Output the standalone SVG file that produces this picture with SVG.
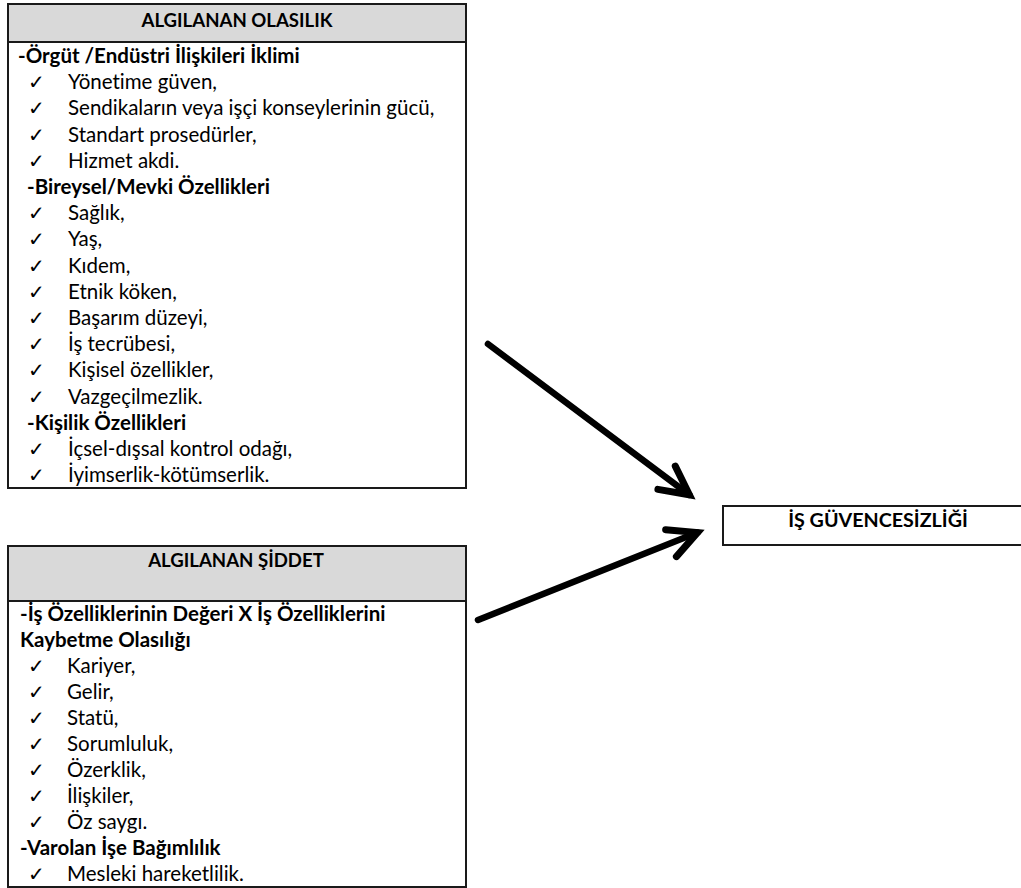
<svg xmlns="http://www.w3.org/2000/svg" width="1021" height="888" viewBox="0 0 1021 888">
<style>
.box{fill:#fff;stroke:#1a1a1a;stroke-width:2}
.hdr{fill:#d9d9d9;stroke:#1a1a1a;stroke-width:2}
text{font-variant-ligatures:none}
.t{font-family:Lato,"Open Sans","Liberation Sans",sans-serif;font-size:20.5px;fill:#000}
.b{font-family:Lato,"Open Sans","Liberation Sans",sans-serif;font-size:20.5px;font-weight:bold;fill:#000}
.h{font-family:Lato,"Open Sans","Liberation Sans",sans-serif;font-size:18.6px;font-weight:bold;fill:#000;text-anchor:middle}
.g{font-family:Lato,"Open Sans","Liberation Sans",sans-serif;font-size:19.7px;font-weight:bold;fill:#000;text-anchor:middle}
.c{font-family:"DejaVu Sans",sans-serif;font-size:20px;font-weight:bold;fill:#000}
.arr{fill:none;stroke:#000;stroke-width:6.5;stroke-linecap:round}
</style>
<defs>
<marker id="chev" markerUnits="userSpaceOnUse" orient="auto" refX="0" refY="0" viewBox="-40 -25 50 50" markerWidth="50" markerHeight="50" overflow="visible">
<path d="M-28.5,-14.5 L0,0 L-28.5,14.5" fill="none" stroke="#000" stroke-width="7" stroke-linejoin="miter" stroke-miterlimit="10" stroke-linecap="round"/>
</marker>
</defs>
<rect width="1021" height="888" fill="#fff"/>

<g id="node-olasilik">
<rect class="box" x="8" y="4" width="458" height="484"/>
<rect class="hdr" x="8" y="4" width="458" height="38"/>
<text class="h" x="237" y="27">ALGILANAN OLASILIK</text>
<text class="b" x="18" y="63">-Örgüt /Endüstri İlişkileri İklimi</text>
<text class="c" x="28" y="89.2">✓</text><text class="t" x="68" y="89.2">Yönetime güven,</text>
<text class="c" x="28" y="115.4">✓</text><text class="t" x="68" y="115.4">Sendikaların veya işçi konseylerinin gücü,</text>
<text class="c" x="28" y="141.6">✓</text><text class="t" x="68" y="141.6">Standart prosedürler,</text>
<text class="c" x="28" y="167.8">✓</text><text class="t" x="68" y="167.8">Hizmet akdi.</text>
<text class="b" x="27" y="194">-Bireysel/Mevki Özellikleri</text>
<text class="c" x="28" y="220.2">✓</text><text class="t" x="68" y="220.2">Sağlık,</text>
<text class="c" x="28" y="246.4">✓</text><text class="t" x="68" y="246.4">Yaş,</text>
<text class="c" x="28" y="272.6">✓</text><text class="t" x="68" y="272.6">Kıdem,</text>
<text class="c" x="28" y="298.8">✓</text><text class="t" x="68" y="298.8">Etnik köken,</text>
<text class="c" x="28" y="325">✓</text><text class="t" x="68" y="325">Başarım düzeyi,</text>
<text class="c" x="28" y="351.2">✓</text><text class="t" x="68" y="351.2">İş tecrübesi,</text>
<text class="c" x="28" y="377.4">✓</text><text class="t" x="68" y="377.4">Kişisel özellikler,</text>
<text class="c" x="28" y="403.6">✓</text><text class="t" x="68" y="403.6">Vazgeçilmezlik.</text>
<text class="b" x="27" y="429.8">-Kişilik Özellikleri</text>
<text class="c" x="28" y="456">✓</text><text class="t" x="68" y="456">İçsel-dışsal kontrol odağı,</text>
<text class="c" x="28" y="482.2">✓</text><text class="t" x="68" y="482.2">İyimserlik-kötümserlik.</text>
</g>

<g id="node-siddet">
<rect class="box" x="8" y="546" width="458" height="341"/>
<rect class="hdr" x="8" y="546" width="458" height="55"/>
<text class="h" x="236" y="567">ALGILANAN ŞİDDET</text>
<text class="b" x="20" y="621">-İş Özelliklerinin Değeri X İş Özelliklerini</text>
<text class="b" x="20" y="647">Kaybetme Olasılığı</text>
<text class="c" x="28" y="673">✓</text><text class="t" x="67" y="673">Kariyer,</text>
<text class="c" x="28" y="699">✓</text><text class="t" x="67" y="699">Gelir,</text>
<text class="c" x="28" y="725">✓</text><text class="t" x="67" y="725">Statü,</text>
<text class="c" x="28" y="751">✓</text><text class="t" x="67" y="751">Sorumluluk,</text>
<text class="c" x="28" y="777">✓</text><text class="t" x="67" y="777">Özerklik,</text>
<text class="c" x="28" y="803">✓</text><text class="t" x="67" y="803">İlişkiler,</text>
<text class="c" x="28" y="829">✓</text><text class="t" x="67" y="829">Öz saygı.</text>
<text class="b" x="20" y="855">-Varolan İşe Bağımlılık</text>
<text class="c" x="28" y="881">✓</text><text class="t" x="67" y="881">Mesleki hareketlilik.</text>
</g>

<g id="node-guvencesizlik">
<rect class="box" x="723" y="506" width="302" height="39"/>
<text class="g" x="878" y="527">İŞ GÜVENCESİZLİĞİ</text>
</g>

<g id="connectors">
<line class="arr" x1="488" y1="344" x2="689.4" y2="494.8" marker-end="url(#chev)"/>
<line class="arr" x1="478" y1="620" x2="697.5" y2="532.6" marker-end="url(#chev)"/>
</g>
</svg>
